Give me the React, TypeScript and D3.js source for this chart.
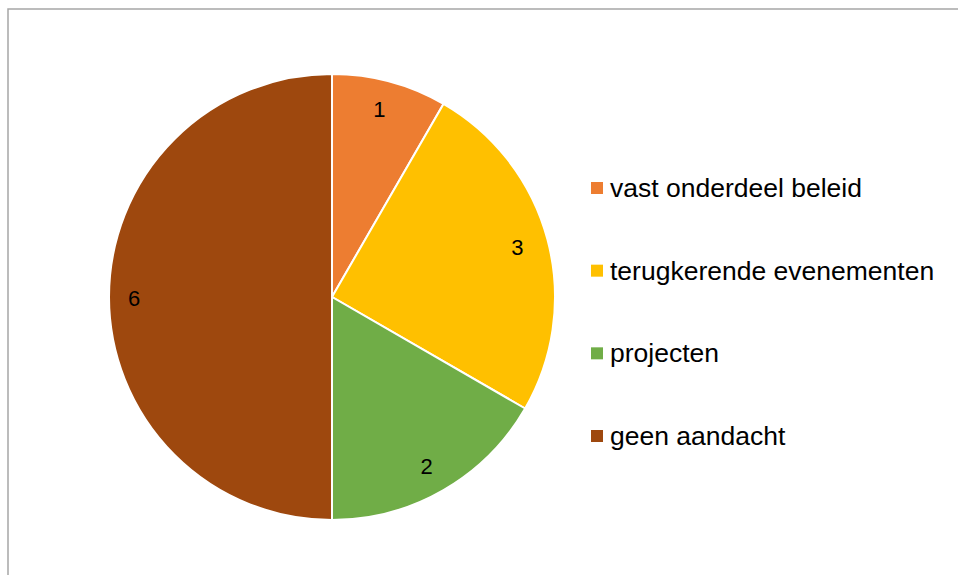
import React from "react";
import * as d3 from "d3";

const categories = ["vast onderdeel beleid", "terugkerende evenementen", "projecten", "geen aandacht"];
const values = [1, 3, 2, 6];
const colors = ["#ED7D31", "#FFC000", "#70AD47", "#9E480E"];

const W = 958;
const H = 575;
const cx = 332;
const cy = 297;
const R = 223;

export default function App() {
  const pie = d3.pie<number>().sort(null).value((d) => d);
  const arcs = pie(values);
  const arcGen = d3.arc<d3.PieArcDatum<number>>().innerRadius(0).outerRadius(R);
  const labelArc = d3.arc<d3.PieArcDatum<number>>().innerRadius(195).outerRadius(195);

  const legendY = d3.scalePoint<string>().domain(categories).range([188, 436]);

  return (
    <svg
      width={W}
      height={H}
      style={{ position: "fixed", left: 0, top: 0, background: "#fff" }}
      fontFamily="Liberation Sans, Arial, sans-serif"
    >
      <rect x={8} y={9} width={W + 20} height={H + 20} fill="#fff" stroke="#a6a6a6" strokeWidth={1.5} />
      <g transform={`translate(${cx},${cy})`}>
        {arcs.map((a, i) => (
          <path key={i} d={arcGen(a) || ""} fill={colors[i]} stroke="#fff" strokeWidth={2} />
        ))}
        {arcs.map((a, i) => {
          const [x, y] = labelArc.centroid(a);
          return (
            <text key={i} x={x - 3} y={y + 1} textAnchor="middle" dominantBaseline="central" fontSize={22} fill="#000">
              {values[i]}
            </text>
          );
        })}
      </g>
      {categories.map((c, i) => (
        <g key={c} transform={`translate(591,${legendY(c)})`}>
          <rect x={0} y={-6} width={12} height={12} fill={colors[i]} />
          <text x={19} y={0} dominantBaseline="central" fontSize={26.5} fill="#000">
            {c}
          </text>
        </g>
      ))}
    </svg>
  );
}
